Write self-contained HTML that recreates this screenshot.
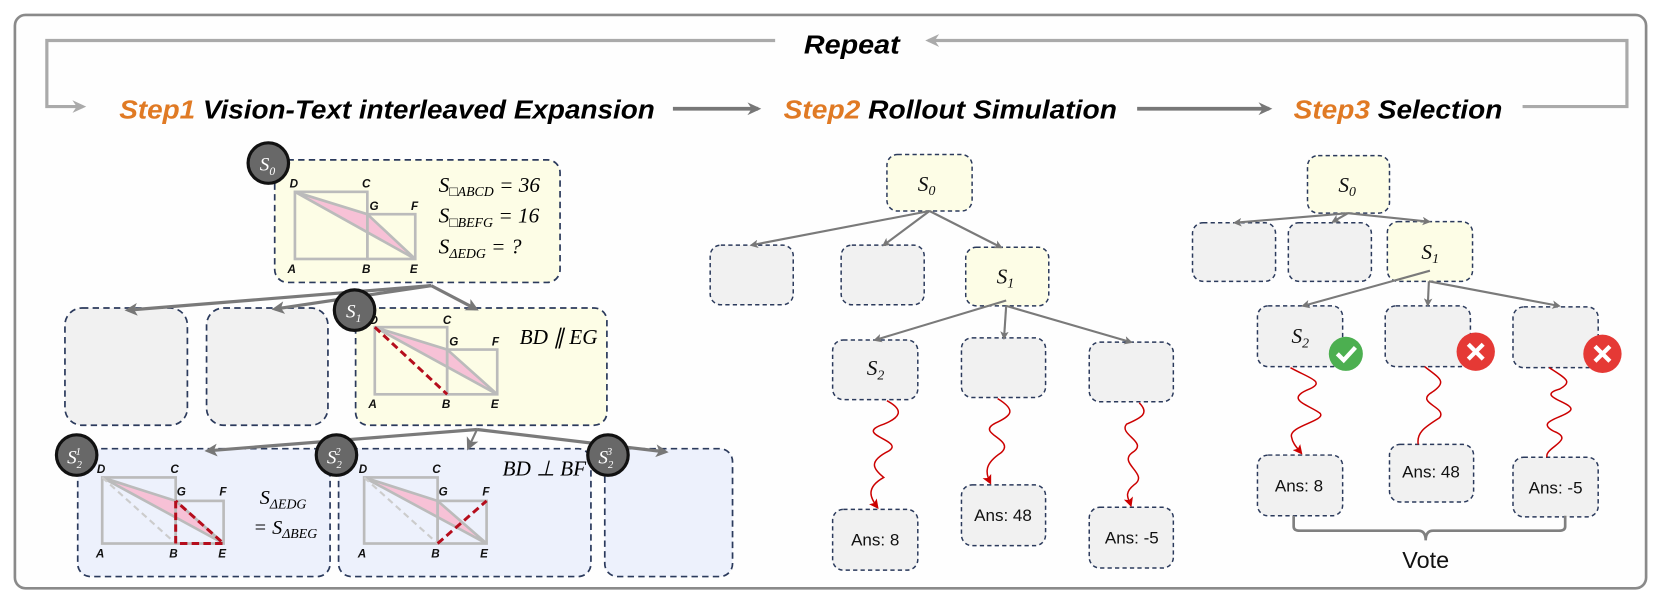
<!DOCTYPE html>
<html><head><meta charset="utf-8">
<style>
html,body{margin:0;padding:0;background:#fff;}
svg{display:block;}
.t{font-family:"Liberation Sans",sans-serif;font-weight:bold;font-style:italic;font-size:24px;}
.m{font-family:"Liberation Serif",serif;font-style:italic;}
.lb{font-family:"Liberation Sans",sans-serif;font-weight:bold;font-style:italic;font-size:11px;fill:#111;}
.ans{font-family:"Liberation Sans",sans-serif;font-size:16px;fill:#111;}
</style></head><body>
<svg width="1661" height="600" viewBox="0 0 1560 563" preserveAspectRatio="none" xmlns="http://www.w3.org/2000/svg">
<defs>
<marker id="ag" markerWidth="8" markerHeight="8" refX="6" refY="4" orient="auto" markerUnits="userSpaceOnUse"><path d="M0,0 L8,4 L0,8 L2,4z" fill="#777"/></marker>
<marker id="ag2" markerWidth="12" markerHeight="12" refX="9" refY="6" orient="auto" markerUnits="userSpaceOnUse"><path d="M0,0 L12,6 L0,12 L3,6z" fill="#777"/></marker>
<marker id="al" markerWidth="14" markerHeight="14" refX="10" refY="7" orient="auto" markerUnits="userSpaceOnUse"><path d="M0,1 L13,7 L0,13 L4,7z" fill="#aaa"/></marker>
<marker id="ad" markerWidth="14" markerHeight="14" refX="10" refY="7" orient="auto" markerUnits="userSpaceOnUse"><path d="M0,1 L13,7 L0,13 L4,7z" fill="#777"/></marker>
<marker id="ar" markerWidth="9" markerHeight="9" refX="7" refY="4.5" orient="auto" markerUnits="userSpaceOnUse"><path d="M0,0 L9,4.5 L0,9 L2,4.5z" fill="#c00"/></marker>
</defs>
<rect x="14" y="14" width="1532" height="538" rx="10" fill="#fefefe" stroke="#8a8a8a" stroke-width="2.5"/>

<!-- Repeat loop -->
<polyline points="728,38 44,38 44,100 78,100" fill="none" stroke="#aaa" stroke-width="3" marker-end="url(#al)"/>
<polyline points="1430,100 1528,100 1528,38 872,38" fill="none" stroke="#aaa" stroke-width="3" marker-end="url(#al)"/>
<text x="755" y="50" class="t" font-size="23" textLength="90" lengthAdjust="spacingAndGlyphs">Repeat</text>

<!-- Titles -->
<text x="112" y="111" class="t" textLength="503" lengthAdjust="spacingAndGlyphs"><tspan fill="#e07a24">Step1</tspan> Vision-Text interleaved Expansion</text>
<line x1="632" y1="102" x2="712" y2="102" stroke="#777" stroke-width="3.5" marker-end="url(#ad)"/>
<text x="736" y="111" class="t" textLength="313" lengthAdjust="spacingAndGlyphs"><tspan fill="#e07a24">Step2</tspan> Rollout Simulation</text>
<line x1="1068" y1="102" x2="1192" y2="102" stroke="#777" stroke-width="3.5" marker-end="url(#ad)"/>
<text x="1215" y="111" class="t" textLength="196" lengthAdjust="spacingAndGlyphs"><tspan fill="#e07a24">Step3</tspan> Selection</text>

<!-- STEP1 -->
<g stroke="#2b3a5c" stroke-width="1.6" stroke-dasharray="6,4">
<rect x="258" y="150" width="268" height="115" rx="12" fill="#fdfde6"/>
<rect x="61" y="289" width="115" height="110" rx="16" fill="#f1f1f1"/>
<rect x="194" y="289" width="114" height="110" rx="16" fill="#f1f1f1"/>
<rect x="334" y="289" width="236" height="110" rx="12" fill="#fdfde6"/>
<rect x="73" y="421" width="237" height="120" rx="12" fill="#edf1fc"/>
<rect x="318" y="421" width="237" height="120" rx="12" fill="#edf1fc"/>
<rect x="568" y="421" width="120" height="120" rx="12" fill="#edf1fc"/>
</g>
<g stroke="#7a7a7a" stroke-width="3" fill="none">
<line x1="405" y1="268" x2="120" y2="291" marker-end="url(#ag2)"/>
<line x1="405" y1="268" x2="258" y2="290" marker-end="url(#ag2)"/>
<line x1="405" y1="268" x2="447" y2="290" marker-end="url(#ag2)"/>
<line x1="448" y1="403" x2="195" y2="423" marker-end="url(#ag2)"/>
<line x1="448" y1="403" x2="440" y2="420" stroke-width="2" marker-end="url(#ag2)"/>
<line x1="448" y1="403" x2="625" y2="424" marker-end="url(#ag2)"/>
</g>

<!-- S0 geometry -->
<g>
<polygon points="277,180 345,201 390,243" fill="#f7c1d6"/>
<g stroke="#bbb" stroke-width="2.5" fill="none">
<rect x="277" y="180" width="68" height="63"/><rect x="345" y="201" width="45" height="42"/>
<polyline points="277,180 345,201 390,243 277,180"/>
</g>
<text class="lb" x="272" y="176">D</text><text class="lb" x="340" y="176">C</text><text class="lb" x="347" y="197">G</text><text class="lb" x="386" y="197">F</text>
<text class="lb" x="270" y="256">A</text><text class="lb" x="340" y="256">B</text><text class="lb" x="385" y="256">E</text>
<text class="m" x="412" y="180" font-size="20">S<tspan font-size="13" dy="4">□ABCD</tspan><tspan dy="-4"> = 36</tspan></text>
<text class="m" x="412" y="209" font-size="20">S<tspan font-size="13" dy="4">□BEFG</tspan><tspan dy="-4"> = 16</tspan></text>
<text class="m" x="412" y="238" font-size="20">S<tspan font-size="13" dy="4">ΔEDG</tspan><tspan dy="-4"> = ?</tspan></text>
</g>

<!-- S1 geometry -->
<g>
<polygon points="352,307 420,328 467,370" fill="#f7c1d6"/>
<g stroke="#bbb" stroke-width="2.5" fill="none">
<rect x="352" y="307" width="68" height="63"/><rect x="420" y="328" width="47" height="42"/>
<polyline points="352,307 420,328 467,370 352,307"/>
</g>
<line x1="352" y1="307" x2="420" y2="370" stroke="#b50d1c" stroke-width="2.8" stroke-dasharray="7,4"/>
<text class="lb" x="347" y="304">D</text><text class="lb" x="416" y="304">C</text><text class="lb" x="422" y="324">G</text><text class="lb" x="462" y="324">F</text>
<text class="lb" x="346" y="383">A</text><text class="lb" x="415" y="383">B</text><text class="lb" x="461" y="383">E</text>
<text class="m" x="488" y="323" font-size="20">BD ∥ EG</text>
</g>

<!-- S2^1 geometry -->
<g>
<polygon points="96,448 165,470 210,510" fill="#f7c1d6"/>
<g stroke="#bbb" stroke-width="2.5" fill="none">
<rect x="96" y="448" width="69" height="62"/><rect x="165" y="470" width="45" height="40"/>
<polyline points="96,448 165,470 210,510 96,448"/>
</g>
<line x1="96" y1="448" x2="165" y2="510" stroke="#ccc" stroke-width="2" stroke-dasharray="6,4"/>
<polyline points="165,470 165,510 210,510 165,470" fill="none" stroke="#b50d1c" stroke-width="2.8" stroke-dasharray="7,4"/>
<text class="lb" x="91" y="444">D</text><text class="lb" x="160" y="444">C</text><text class="lb" x="166" y="465">G</text><text class="lb" x="206" y="465">F</text>
<text class="lb" x="90" y="523">A</text><text class="lb" x="159" y="523">B</text><text class="lb" x="205" y="523">E</text>
<text class="m" x="244" y="473" font-size="19">S<tspan font-size="13" dy="4">ΔEDG</tspan></text>
<text class="m" x="238" y="501" font-size="19">= S<tspan font-size="13" dy="4">ΔBEG</tspan></text>
</g>

<!-- S2^2 geometry -->
<g>
<polygon points="342,448 411,470 457,510" fill="#f7c1d6"/>
<g stroke="#bbb" stroke-width="2.5" fill="none">
<rect x="342" y="448" width="69" height="62"/><rect x="411" y="470" width="46" height="40"/>
<polyline points="342,448 411,470 457,510 342,448"/>
</g>
<line x1="342" y1="448" x2="411" y2="510" stroke="#ccc" stroke-width="2" stroke-dasharray="6,4"/>
<line x1="411" y1="510" x2="457" y2="470" stroke="#b50d1c" stroke-width="2.8" stroke-dasharray="7,4"/>
<text class="lb" x="337" y="444">D</text><text class="lb" x="406" y="444">C</text><text class="lb" x="412" y="465">G</text><text class="lb" x="453" y="465">F</text>
<text class="lb" x="336" y="523">A</text><text class="lb" x="405" y="523">B</text><text class="lb" x="451" y="523">E</text>
<text class="m" x="472" y="446" font-size="20">BD ⊥ BF</text>
</g>

<!-- circles -->
<g font-family="Liberation Serif,serif" font-style="italic" fill="#fff">
<circle cx="252" cy="153" r="19" fill="#686868" stroke="#111" stroke-width="3"/>
<text x="244" y="160" font-size="18" fill="#fff">S<tspan font-size="11" dy="4">0</tspan></text>
<circle cx="333" cy="291" r="19" fill="#686868" stroke="#111" stroke-width="3"/>
<text x="325" y="298" font-size="18" fill="#fff">S<tspan font-size="11" dy="4">1</tspan></text>
<circle cx="72" cy="427" r="19" fill="#686868" stroke="#111" stroke-width="3"/>
<text x="63" y="435" font-size="18" fill="#fff">S<tspan font-size="10" dy="4">2</tspan><tspan font-size="10" dx="-6" dy="-12">1</tspan></text>
<circle cx="316" cy="427" r="19" fill="#686868" stroke="#111" stroke-width="3"/>
<text x="307" y="435" font-size="18" fill="#fff">S<tspan font-size="10" dy="4">2</tspan><tspan font-size="10" dx="-6" dy="-12">2</tspan></text>
<circle cx="571" cy="427" r="19" fill="#686868" stroke="#111" stroke-width="3"/>
<text x="562" y="435" font-size="18" fill="#fff">S<tspan font-size="10" dy="4">2</tspan><tspan font-size="10" dx="-6" dy="-12">3</tspan></text>
</g>

<!-- STEP2 -->
<g stroke="#2b3a5c" stroke-width="1.4" stroke-dasharray="4,3">
<rect x="833" y="145" width="80" height="53" rx="10" fill="#fdfde6"/>
<rect x="667" y="230" width="78" height="56" rx="10" fill="#f1f1f1"/>
<rect x="790" y="230" width="78" height="56" rx="10" fill="#f1f1f1"/>
<rect x="907" y="232" width="78" height="55" rx="10" fill="#fdfde6"/>
<rect x="782" y="319" width="80" height="56" rx="10" fill="#f1f1f1"/>
<rect x="903" y="317" width="79" height="56" rx="10" fill="#f1f1f1"/>
<rect x="1023" y="321" width="79" height="56" rx="10" fill="#f1f1f1"/>
<rect x="782" y="478" width="80" height="57" rx="10" fill="#f1f1f1"/>
<rect x="903" y="455" width="79" height="57" rx="10" fill="#f1f1f1"/>
<rect x="1023" y="476" width="79" height="57" rx="10" fill="#f1f1f1"/>
</g>
<g stroke="#7a7a7a" stroke-width="2" fill="none">
<line x1="873" y1="198" x2="706" y2="230" marker-end="url(#ag)"/>
<line x1="873" y1="198" x2="830" y2="230" marker-end="url(#ag)"/>
<line x1="873" y1="198" x2="940" y2="232" marker-end="url(#ag)"/>
<line x1="945" y1="282" x2="822" y2="319" marker-end="url(#ag)"/>
<line x1="945" y1="287" x2="943" y2="317" marker-end="url(#ag)"/>
<line x1="945" y1="287" x2="1062" y2="321" marker-end="url(#ag)"/>
</g>
<g font-family="Liberation Serif,serif" font-style="italic" fill="#111">
<text x="862" y="179" font-size="20">S<tspan font-size="13" dy="4">0</tspan></text>
<text x="936" y="266" font-size="20">S<tspan font-size="13" dy="4">1</tspan></text>
<text x="814" y="352" font-size="20">S<tspan font-size="13" dy="4">2</tspan></text>
</g>
<g stroke="#c00" stroke-width="1.4" fill="none">
<path d="M833,376 C850,385 845,392 830,398 C800,408 850,413 835,423 C815,433 820,440 830,448 C812,458 818,468 824,476" marker-end="url(#ar)"/>
<path d="M937,374 C955,385 950,390 935,397 C915,407 955,412 940,425 C925,435 925,443 930,453" marker-end="url(#ar)"/>
<path d="M1070,378 C1080,388 1072,392 1058,398 C1050,408 1080,415 1063,425 C1050,435 1080,445 1065,455 C1055,463 1060,468 1062,474" marker-end="url(#ar)"/>
</g>
<text class="ans" x="822" y="512" text-anchor="middle">Ans: 8</text>
<text class="ans" x="942" y="489" text-anchor="middle">Ans: 48</text>
<text class="ans" x="1063" y="510" text-anchor="middle">Ans: -5</text>

<!-- STEP3 -->
<g stroke="#2b3a5c" stroke-width="1.4" stroke-dasharray="4,3">
<rect x="1228" y="146" width="77" height="54" rx="10" fill="#fdfde6"/>
<rect x="1120" y="209" width="78" height="55" rx="10" fill="#f1f1f1"/>
<rect x="1210" y="209" width="78" height="55" rx="10" fill="#f1f1f1"/>
<rect x="1303" y="208" width="80" height="56" rx="10" fill="#fdfde6"/>
<rect x="1181" y="287" width="80" height="57" rx="10" fill="#f1f1f1"/>
<rect x="1301" y="287" width="80" height="57" rx="10" fill="#f1f1f1"/>
<rect x="1421" y="288" width="80" height="57" rx="10" fill="#f1f1f1"/>
<rect x="1181" y="427" width="80" height="57" rx="10" fill="#f1f1f1"/>
<rect x="1305" y="417" width="79" height="54" rx="10" fill="#f1f1f1"/>
<rect x="1421" y="429" width="80" height="56" rx="10" fill="#f1f1f1"/>
</g>
<g stroke="#7a7a7a" stroke-width="2" fill="none">
<line x1="1266" y1="200" x2="1160" y2="209" marker-end="url(#ag)"/>
<line x1="1266" y1="200" x2="1252" y2="208" marker-end="url(#ag)"/>
<line x1="1266" y1="200" x2="1342" y2="208" marker-end="url(#ag)"/>
<line x1="1343" y1="254" x2="1224" y2="287" marker-end="url(#ag)"/>
<line x1="1342" y1="264" x2="1341" y2="286" marker-end="url(#ag)"/>
<line x1="1342" y1="264" x2="1464" y2="287" marker-end="url(#ag)"/>
</g>
<g font-family="Liberation Serif,serif" font-style="italic" fill="#111">
<text x="1257" y="180" font-size="20">S<tspan font-size="13" dy="4">0</tspan></text>
<text x="1335" y="243" font-size="20">S<tspan font-size="13" dy="4">1</tspan></text>
<text x="1213" y="322" font-size="20">S<tspan font-size="13" dy="4">2</tspan></text>
</g>
<circle cx="1264" cy="332" r="16" fill="#4caf50"/>
<polyline points="1256,332 1262,338 1273,326" fill="none" stroke="#fff" stroke-width="4"/>
<circle cx="1386" cy="330" r="18" fill="#e53935"/>
<path d="M1379,323 L1393,337 M1393,323 L1379,337" stroke="#fff" stroke-width="4"/>
<circle cx="1505" cy="332" r="18" fill="#e53935"/>
<path d="M1498,325 L1512,339 M1512,325 L1498,339" stroke="#fff" stroke-width="4"/>
<g stroke="#c00" stroke-width="1.4" fill="none">
<path d="M1212,345 C1230,355 1245,358 1230,365 C1205,375 1230,380 1240,388 C1245,395 1210,400 1213,410 C1214,416 1218,420 1222,425" marker-end="url(#ar)"/>
<path d="M1338,344 C1352,355 1360,358 1345,368 C1328,378 1360,382 1352,392 C1340,400 1330,405 1332,417"/>
<path d="M1455,345 C1470,355 1478,358 1465,365 C1440,372 1480,378 1475,385 C1470,392 1440,395 1460,405 C1480,413 1450,420 1453,429"/>
</g>
<text class="ans" x="1220" y="461" text-anchor="middle">Ans: 8</text>
<text class="ans" x="1344" y="448" text-anchor="middle">Ans: 48</text>
<text class="ans" x="1461" y="463" text-anchor="middle">Ans: -5</text>
<path d="M1215,484 L1215,494 Q1215,498 1221,498 L1332,498 Q1339,498 1339,507 Q1339,498 1346,498 L1464,498 Q1470,498 1470,494 L1470,484" fill="none" stroke="#808080" stroke-width="2.5"/>
<text x="1339" y="533" font-family="Liberation Sans,sans-serif" font-size="22" text-anchor="middle" fill="#111">Vote</text>
</svg>
</body></html>
